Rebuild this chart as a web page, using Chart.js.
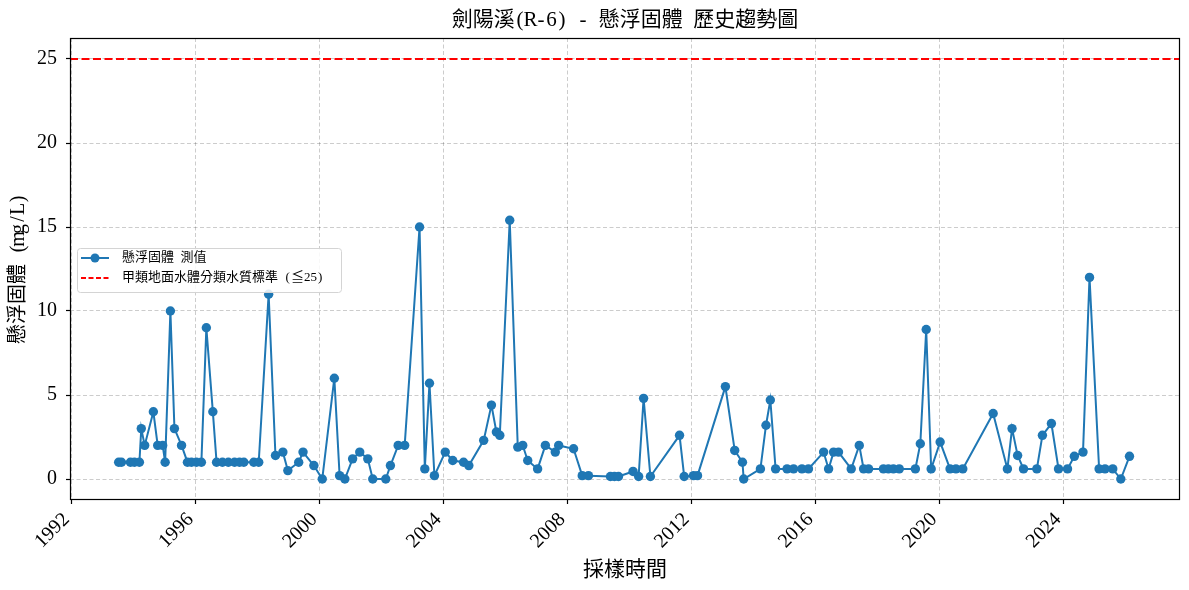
<!DOCTYPE html>
<html>
<head>
<meta charset="utf-8">
<script src="https://cdn.jsdelivr.net/npm/chart.js@4.4.1/dist/chart.umd.min.js"></script>
<style>
html,body{margin:0;padding:0;background:#fff;}
#wrap{width:1189px;height:590px;}
</style>
</head>
<body>
<div id="wrap"><canvas id="c" width="1189" height="590"></canvas></div>
<script>
// ---- data (sample dates as decimal years, values in mg/L) ----
const SAMPLE_DATES = [
  1993.52,1993.61,1993.90,1994.03,1994.19,1994.25,1994.36,1994.64,1994.78,1994.94,
  1995.02,1995.19,1995.32,1995.55,1995.74,1995.87,1996.03,1996.19,1996.35,1996.56,
  1996.68,1996.87,1997.06,1997.26,1997.42,1997.56,1997.88,1998.04,1998.36,1998.58,
  1998.82,1998.98,1999.33,1999.47,1999.82,2000.09,2000.48,2000.65,2000.82,2001.07,
  2001.30,2001.56,2001.72,2002.14,2002.29,2002.54,2002.75,2003.23,2003.40,2003.55,
  2003.71,2004.06,2004.30,2004.65,2004.82,2005.30,2005.55,2005.71,2005.82,2006.14,
  2006.40,2006.56,2006.72,2007.04,2007.29,2007.61,2007.72,2008.20,2008.48,2008.68,
  2009.39,2009.52,2009.65,2010.12,2010.30,2010.46,2010.68,2011.62,2011.77,2012.07,
  2012.20,2013.10,2013.40,2013.65,2013.69,2014.23,2014.41,2014.55,2014.72,2015.09,
  2015.30,2015.57,2015.78,2016.27,2016.43,2016.59,2016.75,2017.16,2017.42,2017.56,
  2017.72,2018.20,2018.36,2018.52,2018.71,2019.23,2019.39,2019.58,2019.74,2020.03,
  2020.35,2020.54,2020.76,2021.74,2022.20,2022.35,2022.53,2022.72,2023.15,2023.33,
  2023.62,2023.85,2024.14,2024.36,2024.64,2024.85,2025.16,2025.35,2025.60,2025.86,
  2026.14
];
const SS_VALUES = [
  1.0,1.0,1.0,1.0,1.0,3.0,2.0,4.0,2.0,2.0,
  1.0,10.0,3.0,2.0,1.0,1.0,1.0,1.0,9.0,4.0,
  1.0,1.0,1.0,1.0,1.0,1.0,1.0,1.0,11.0,1.4,
  1.6,0.5,1.0,1.6,0.8,0.0,6.0,0.2,0.0,1.2,
  1.6,1.2,0.0,0.0,0.8,2.0,2.0,15.0,0.6,5.7,
  0.2,1.6,1.1,1.0,0.8,2.3,4.4,2.8,2.6,15.4,
  1.9,2.0,1.1,0.6,2.0,1.6,2.0,1.8,0.2,0.2,
  0.15,0.15,0.15,0.45,0.15,4.8,0.15,2.6,0.15,0.2,
  0.2,5.5,1.7,1.0,0.0,0.6,3.2,4.7,0.6,0.6,
  0.6,0.6,0.6,1.6,0.6,1.6,1.6,0.6,2.0,0.6,
  0.6,0.6,0.6,0.6,0.6,0.6,2.1,8.9,0.6,2.2,
  0.6,0.6,0.6,3.9,0.6,3.0,1.4,0.6,0.6,2.6,
  3.3,0.6,0.6,1.35,1.6,12.0,0.6,0.6,0.6,0.0,
  1.35
];
const STANDARD_LIMIT = 25;
const X_TICK_YEARS = [1992,1996,2000,2004,2008,2012,2016,2020,2024];
const Y_TICKS = [0,5,10,15,20,25];
const X_RANGE = [1991.95, 2027.77];
const Y_RANGE = [-1.25, 26.25];

const TITLE = '劍陽溪(R-6) - 懸浮固體 歷史趨勢圖';
const X_LABEL = '採樣時間';
const Y_LABEL = '懸浮固體 (mg/L)';
const SERIES_LABEL = '懸浮固體 測值';
const LIMIT_LABEL = '甲類地面水體分類水質標準 (≦25)';

const BLUE = '#1f77b4';
const TICK_FONT = {family: "'Liberation Serif', 'DejaVu Serif', serif", size: 20};
const CJK = "'Liberation Serif', 'Noto Sans CJK TC', 'Noto Sans CJK SC', sans-serif";

const points = SAMPLE_DATES.map((d, i) => ({x: d, y: SS_VALUES[i]}));
const limitLine = X_RANGE.map(x => ({x: x, y: STANDARD_LIMIT}));

// draw text with full-width CJK cells and half-width Latin cells (like a Ming font)
function cellWidth(ch, size) {
  const c = ch.codePointAt(0);
  return (c >= 0x2E80 || (c >= 0x2260 && c <= 0x2267)) ? size : size * 0.5;
}
function drawCellText(ctx, text, x, y, size, align) {
  ctx.font = size + 'px ' + CJK;
  const chars = Array.from(text);
  const total = chars.reduce((s, ch) => s + cellWidth(ch, size), 0);
  let cx = align === 'center' ? x - total / 2 : x;
  ctx.textAlign = 'center';
  ctx.textBaseline = 'middle';
  for (const ch of chars) {
    const w = cellWidth(ch, size);
    if (ch !== ' ') ctx.fillText(ch, cx + w / 2, y);
    cx += w;
  }
}

const decor = {
  id: 'decor',
  afterDraw(chart) {
    const ctx = chart.ctx;
    const a = chart.chartArea;
    ctx.save();
    // frame
    ctx.strokeStyle = '#000';
    ctx.lineWidth = 1.2;
    ctx.setLineDash([]);
    ctx.strokeRect(Math.round(a.left) + 0.5, Math.round(a.top) + 0.5,
                   Math.round(a.right - a.left) - 1, Math.round(a.bottom - a.top) - 1);
    // title
    ctx.fillStyle = '#000';
    const cx = (a.left + a.right) / 2;
    drawCellText(ctx, TITLE, cx, 20, 21, 'center');
    // x label
    drawCellText(ctx, X_LABEL, cx, 570, 21, 'center');
    // y label
    ctx.save();
    ctx.translate(19, (a.top + a.bottom) / 2);
    ctx.rotate(-Math.PI / 2);
    drawCellText(ctx, Y_LABEL, 0, 0, 20, 'center');
    ctx.restore();
    // legend
    const lx = 77, ly = 248, lw = 264, lh = 44;
    ctx.fillStyle = 'rgba(255,255,255,0.85)';
    ctx.strokeStyle = '#d4d4d4';
    ctx.lineWidth = 1;
    ctx.beginPath();
    ctx.roundRect(lx + 0.5, ly + 0.5, lw, lh, 3);
    ctx.fill();
    ctx.stroke();
    const ds = chart.data.datasets;
    ctx.strokeStyle = BLUE;
    ctx.lineWidth = 2;
    ctx.beginPath();
    ctx.moveTo(81, 258); ctx.lineTo(109, 258); ctx.stroke();
    ctx.fillStyle = BLUE;
    ctx.beginPath(); ctx.arc(95, 258, 4.5, 0, Math.PI * 2); ctx.fill();
    ctx.strokeStyle = 'red';
    ctx.setLineDash([5, 2.5]);
    ctx.beginPath();
    ctx.moveTo(81, 278); ctx.lineTo(109, 278); ctx.stroke();
    ctx.setLineDash([]);
    ctx.fillStyle = '#000';
    drawCellText(ctx, ds[0].label, 122, 258, 13, 'left');
    drawCellText(ctx, ds[1].label, 122, 278, 13, 'left');
    ctx.restore();
  }
};

new Chart(document.getElementById('c'), {
  type: 'line',
  data: {
    datasets: [
      {
        label: SERIES_LABEL,
        data: points,
        borderColor: BLUE,
        backgroundColor: BLUE,
        borderWidth: 2,
        pointRadius: 4.7,
        pointBorderWidth: 0,
        pointBackgroundColor: BLUE,
        tension: 0,
        order: 2
      },
      {
        label: LIMIT_LABEL,
        data: limitLine,
        borderColor: 'red',
        borderWidth: 2,
        borderDash: [8, 3.5],
        pointRadius: 0,
        tension: 0,
        order: 1
      }
    ]
  },
  options: {
    responsive: false,
    animation: false,
    devicePixelRatio: 1,
    layout: {padding: {top: 38, right: 9, bottom: 0, left: 0}},
    plugins: {
      legend: {display: false},
      title: {display: false},
      tooltip: {enabled: false}
    },
    scales: {
      x: {
        type: 'linear',
        min: X_RANGE[0],
        max: X_RANGE[1],
        afterBuildTicks(scale) { scale.ticks = X_TICK_YEARS.map(v => ({value: v})); },
        afterFit(scale) { scale.height = 90; },
        ticks: {
          autoSkip: false,
          minRotation: 45,
          maxRotation: 45,
          padding: 4,
          labelOffset: -5,
          color: '#000',
          font: TICK_FONT,
          callback: v => String(v)
        },
        grid: {
          color: 'rgba(0,0,0,0.2)',
          lineWidth: 1,
          drawTicks: true,
          tickLength: 4,
          tickColor: '#000',
          tickWidth: 1.2
        },
        border: {display: false, dash: [4, 2.5]}
      },
      y: {
        type: 'linear',
        min: Y_RANGE[0],
        max: Y_RANGE[1],
        afterBuildTicks(scale) { scale.ticks = Y_TICKS.map(v => ({value: v})); },
        afterFit(scale) { scale.width = 70; },
        ticks: {
          padding: 9,
          color: '#000',
          font: TICK_FONT,
          callback: v => String(v)
        },
        grid: {
          color: 'rgba(0,0,0,0.2)',
          lineWidth: 1,
          drawTicks: true,
          tickLength: 4,
          tickColor: '#000',
          tickWidth: 1.2
        },
        border: {display: false, dash: [4, 2.5]}
      }
    }
  },
  plugins: [decor]
});
</script>
</body>
</html>
